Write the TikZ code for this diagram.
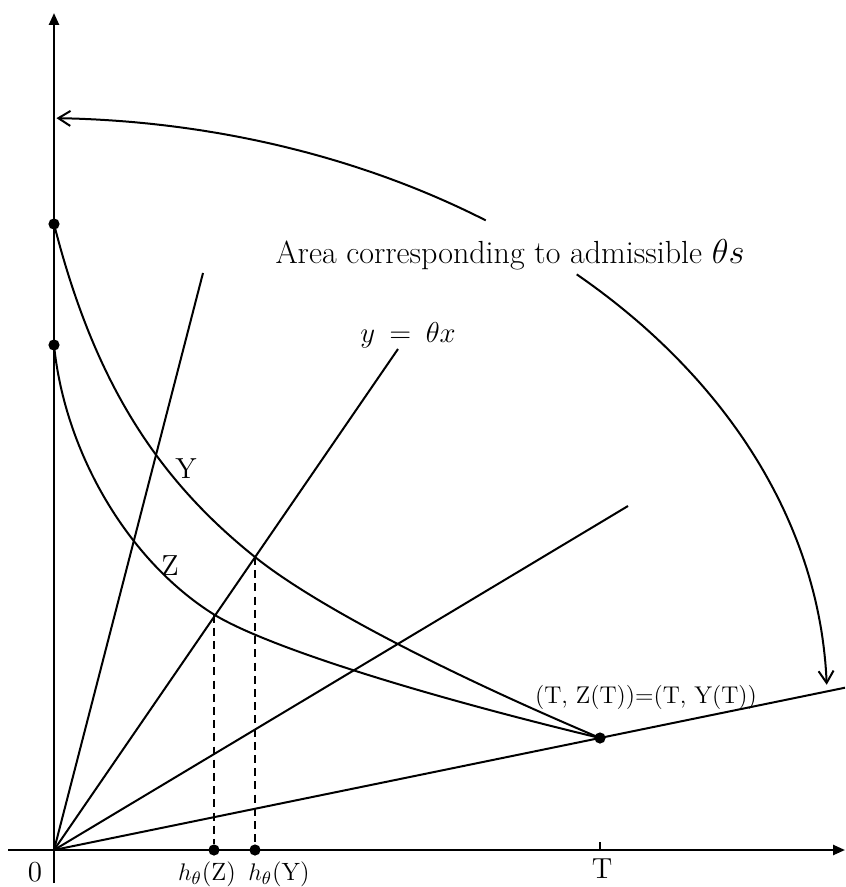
\documentclass[tikz,border=0pt]{standalone}
\usetikzlibrary{arrows.meta}
\begin{document}
\begin{tikzpicture}[x=0.5pt,y=-0.5pt,
  ln/.style={line width=1pt,line join=round},
  axisln/.style={line width=1.2pt},
  dashline/.style={line width=1pt,dash pattern=on 4pt off 2.6pt},
  dot/.style={circle,fill=black,inner sep=0pt,minimum size=5.6pt},
  axisarrow/.style={-{Triangle[length=6pt,width=5pt]}},
  lbl/.style={inner sep=0pt,font=\fontsize{14.5}{16}\selectfont},
  smalllbl/.style={inner sep=0pt,font=\fontsize{12.5}{14}\selectfont},
  ptlbl/.style={inner sep=0pt,font=\fontsize{12.1}{14}\selectfont},
  eqlbl/.style={inner sep=0pt,font=\fontsize{15.5}{17}\selectfont},
  arealbl/.style={inner sep=0pt,font=\fontsize{16}{18}\selectfont}]
\useasboundingbox (0,0) rectangle (845,887);

% axes
\coordinate (O) at (54,850);
\coordinate (xs) at (8,850);
\coordinate (xe) at (845,850);
\coordinate (yb) at (54,883);
\coordinate (yt) at (54,13);
\draw[axisln,axisarrow] (xs) -- (xe);
\draw[axisln,axisarrow] (yb) -- (yt);

% tick at T
\coordinate (tk) at (600,842);
\coordinate (tb) at (600,850);
\draw[axisln] (tk) -- (tb);

% dots
\node[dot] (y0) at (54,224) {};
\node[dot] (z0) at (54,345) {};
\node[dot] (tdot) at (600,738) {};
\node[dot] (hz) at (214,850) {};
\node[dot] (hy) at (255,850) {};

% rays
\coordinate (r1) at (203,273);
\coordinate (r2) at (398,349);
\coordinate (r3) at (628,506);
\coordinate (r4) at (845,687.7);
\draw[ln] (O) -- (r1);
\draw[ln] (O) -- (r2);
\draw[ln] (O) -- (r3);
\draw[ln] (O) -- (r4);

% intersection points
\coordinate (iy) at (255,557);
\coordinate (iz) at (214,614.5);

% curves
\draw[ln] (y0.center) .. controls (92.6,375.6) and (152.8,475.4) .. (iy)
                      .. controls (312.3,603.2) and (440,670.2) .. (tdot.center);
\draw[ln] (z0.center) .. controls (64.9,453.7) and (128.9,561.3) .. (iz)
                      .. controls (264.7,645.5) and (411.4,692.6) .. (tdot.center);

% dashed drops
\draw[dashline] (iy) -- (hy);
\draw[dashline] (iz) -- (hz);

% admissible area arrow (elliptic arc with gap for text)
\draw[ln,{Straight Barb[length=6pt,width=7.5pt]}-] plot[domain=-1.5:-47.0,samples=60] ({40+787*cos(\x)},{700+582*sin(\x)});
\draw[ln,-{Straight Barb[length=6pt,width=7.5pt]}] plot[domain=-55.5:-88.8,samples=60] ({40+787*cos(\x)},{700+582*sin(\x)});

% labels
\node[arealbl,anchor=base] (area) at (510,263.5) {Area corresponding to admissible $\theta s$};
\node[eqlbl,anchor=base] (eq) at (408,342) {$y\:=\:\theta x$};
\node[lbl,anchor=base] (ly) at (186,478) {Y};
\node[lbl,anchor=base] (lz) at (170,575) {Z};
\node[lbl,anchor=base] (lt) at (602,878) {T};
\node[lbl,anchor=base] (l0) at (35,881) {0};
\node[smalllbl,anchor=base] (lhz) at (207,880) {$h_\theta$(Z)};
\node[smalllbl,anchor=base] (lhy) at (279,880) {$h_\theta$(Y)};
\node[ptlbl,anchor=base] (lpt) at (646,703) {(T, Z(T))=(T, Y(T))};
\end{tikzpicture}
\end{document}
